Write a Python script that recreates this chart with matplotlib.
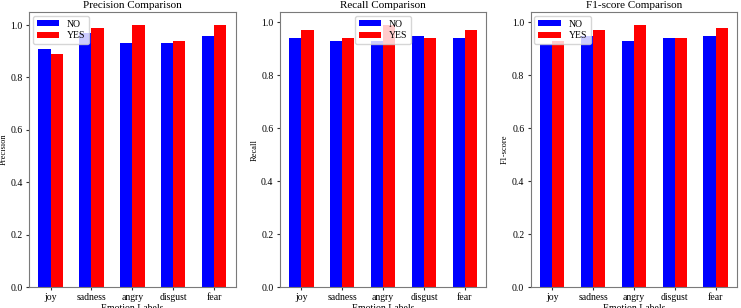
import matplotlib
matplotlib.use("Agg")
import matplotlib.pyplot as plt
import numpy as np

plt.rcParams['font.family'] = ['Liberation Serif', 'DejaVu Serif']
plt.rcParams['font.size'] = 7
plt.rcParams['axes.edgecolor'] = '#7a7a7a'

labels = ["joy", "sadness", "angry", "disgust", "fear"]
precision_no = [0.91, 0.97, 0.93, 0.93, 0.96]
precision_yes = [0.89, 0.99, 1.00, 0.94, 1.00]
recall_no = [0.94, 0.93, 0.93, 0.95, 0.94]
recall_yes = [0.97, 0.94, 0.99, 0.94, 0.97]
f1_no = [0.92, 0.95, 0.93, 0.94, 0.95]
f1_yes = [0.93, 0.97, 0.99, 0.94, 0.98]

panels = [
    ("Precision Comparison", "Precision", precision_no, precision_yes, "upper left"),
    ("Recall Comparison", "Recall", recall_no, recall_yes, "upper center"),
    ("F1-score Comparison", "F1-score", f1_no, f1_yes, "upper left"),
]

fig, axes = plt.subplots(1, 3, figsize=(7.41, 3.08), dpi=100)
fig.subplots_adjust(left=0.039, right=0.995, top=0.961, bottom=0.068, wspace=0.213)
x = np.arange(len(labels))
w = 0.3
for ax, (title, ylabel, no, yes, loc) in zip(axes, panels):
    ax.bar(x - w/2, no, w, color="blue", label="NO")
    ax.bar(x + w/2, yes, w, color="red", label="YES")
    ax.set_title(title, fontsize=8, pad=3)
    ax.set_ylabel(ylabel, fontsize=6, labelpad=2)
    ax.set_xlabel("Emotion Labels", fontsize=7, labelpad=1)
    ax.set_xticks(x)
    ax.set_xticklabels(labels)
    ax.tick_params(labelsize=7, pad=2, length=2.5, color='#333333')
    ax.legend(loc=loc, fontsize=7, labelspacing=0.25, handlelength=2.3,
              handleheight=0.55, borderpad=0.4, handletextpad=0.8,
              borderaxespad=0.4)
fig.savefig("out.png", dpi=100)
